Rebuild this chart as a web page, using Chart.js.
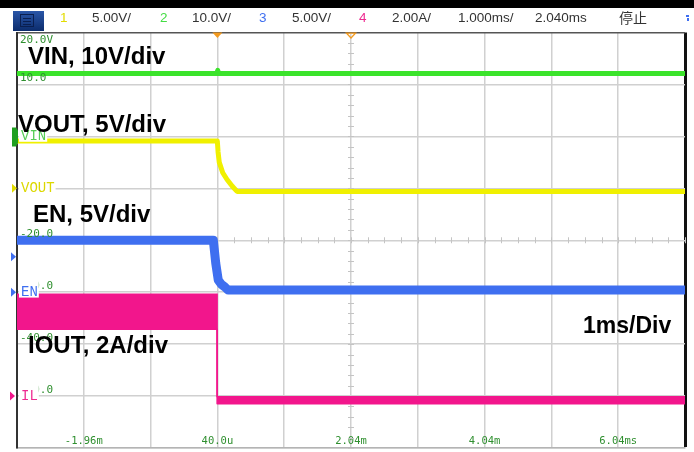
<!DOCTYPE html>
<html><head><meta charset="utf-8">
<script src="https://cdn.jsdelivr.net/npm/chart.js@4.4.0/dist/chart.umd.min.js"></script>
<style>html,body{margin:0;padding:0;background:#fff;overflow:hidden}canvas{display:block}</style>
</head><body>
<canvas id="c" width="694" height="452"></canvas>
<script>
// ---- time axis (ms), 1 ms/div ----
const xTickValues = [-2.96,-1.96,-0.96,0.04,1.04,2.04,3.04,4.04,5.04,6.04,7.04];
const xTickLabels = ['','-1.96m','','40.0u','','2.04m','','4.04m','','6.04ms',''];
// ---- CH2 (VIN) scale ticks, 10 V/div ----
const vinTickValues = [-60,-50,-40,-30,-20,-10,0,10,20];
const vinTickLabels = ['','-50.0','-40.0','-30.0','-20.0','-10.0','0.0','10.0','20.0V'];

// ---- header ----
const chanNums   = ['1','2','3','4'];
const chanScales = ['5.00V/','10.0V/','5.00V/','2.00A/'];
const timebase = '1.000ms/';
const delay = '2.040ms';
const runState = '停止';

// ---- traces (time in ms) ----
const vinT  = [-2.96, 0.03, 0.045, 0.06, 7.04];
const vinV  = [12.1, 12.1, 12.7, 12.1, 12.1];            // V
const voutT = [-2.96, 0.039, 0.05, 0.068, 0.12, 0.184, 0.263, 0.334, 7.04];
const voutV = [4.55, 4.55, 3.5, 2.5, 1.5, 0.85, 0.2, -0.3, -0.3]; // V
const enT   = [-2.96, -0.021, 0.015, 0.053, 0.1, 0.154, 0.2, 7.04];
const enV   = [5.0, 5.0, 2.8, 1.16, 0.75, 0.49, 0.2, 0.2];       // V
const ilT   = [-2.96, 0.035, 0.036, 7.04];
const ilMax = [3.92, 3.92, -0.03, -0.03];                         // A (ripple top)
const ilMin = [2.57, 2.57, -0.3, -0.3];                           // A (ripple bottom)
const enTrigLevel = 3.4;

// ---- annotations ----
const notes = ['VIN, 10V/div','VOUT, 5V/div','EN, 5V/div','IOUT, 2A/div','1ms/Div'];

const C = {vin:'#3be32b', vout:'#f0f000', en:'#3f6ff0', il:'#f2168c', lbl:'#2f8f2f'};
const pts = (t, v) => t.map((x, i) => ({x, y: v[i]}));
const noPad = s => { s.paddingTop = 0; s.paddingBottom = 0; s.paddingLeft = 0; s.paddingRight = 0; };

function chanAxis(min, max, label, color) {
  return {
    type:'linear', position:'left', min, max, z:2,
    grid:{display:false, drawTicks:false}, border:{display:false},
    afterBuildTicks: s => { s.ticks = [{value:0}]; },
    afterFit: s => { s.width = 0; noPad(s); },
    ticks:{ z:2, mirror:true, padding:4, color, autoSkip:false,
      font:{family:'Liberation Mono', size:14},
      callback: () => label,
      showLabelBackdrop:true, backdropColor:'#ffffff',
      backdropPadding:{top:3,bottom:-3,left:2,right:1} }
  };
}

const deco = {
  id:'deco',
  beforeDraw(chart){
    const ctx = chart.ctx;
    ctx.save();
    ctx.fillStyle = '#fff'; ctx.fillRect(0,0,chart.width,chart.height);
    ctx.fillStyle = '#000'; ctx.fillRect(0,0,chart.width,8);
    // menu icon
    const g = ctx.createLinearGradient(0,11,0,31);
    g.addColorStop(0,'#2a56a8'); g.addColorStop(1,'#0c2c6c');
    ctx.fillStyle = g; ctx.fillRect(13,11,31,20);
    ctx.strokeStyle = '#0a1f50'; ctx.lineWidth = 1;
    ctx.strokeRect(20.5,14.5,13,12);
    ctx.beginPath(); ctx.moveTo(23,18.5); ctx.lineTo(31,18.5); ctx.moveTo(23,21.5); ctx.lineTo(31,21.5); ctx.moveTo(23,24.5); ctx.lineTo(31,24.5); ctx.stroke();
    // header texts
    ctx.font = '13.5px "Liberation Sans", Arial, sans-serif';
    ctx.textBaseline = 'middle';
    const numX = [60, 160, 259, 359], scX = [92, 192, 292, 392];
    const numCol = ['#e2dc00', '#44dd44', '#3f6ff0', '#ee2a90'];
    chanNums.forEach((n,i)=>{ ctx.fillStyle = numCol[i]; ctx.fillText(n, numX[i], 18); ctx.fillStyle = '#333'; ctx.fillText(chanScales[i], scX[i], 18); });
    ctx.fillStyle = '#333';
    ctx.fillText(timebase, 458, 18);
    ctx.fillText(delay, 535, 18);
    ctx.font = '14px "Noto Sans CJK SC", sans-serif';
    ctx.fillText(runState, 619, 18);
    ctx.fillStyle = '#3f6ff0'; ctx.fillRect(686,15,3,2); ctx.fillRect(687,18,2,3);
    ctx.restore();
  },
  beforeDatasetsDraw(chart){
    const ctx = chart.ctx, xs = chart.scales.x, ys = chart.scales.yVin;
    const xc = xs.getPixelForValue(2.04), yc = ys.getPixelForValue(-20);
    ctx.save(); ctx.strokeStyle = '#c4c4c4'; ctx.lineWidth = 1;
    ctx.beginPath();
    for (let v = -60; v <= 20; v += 2) { const y = Math.round(ys.getPixelForValue(v)) + 0.5; ctx.moveTo(xc-3, y); ctx.lineTo(xc+3, y); }
    for (let k = 0; k <= 40; k++) { const x = Math.round(xs.getPixelForValue(-2.96 + k*0.25)) + 0.5; ctx.moveTo(x, yc-3); ctx.lineTo(x, yc+3); }
    ctx.stroke(); ctx.restore();
  },
  afterDraw(chart){
    const ctx = chart.ctx, xs = chart.scales.x, s = chart.scales;
    ctx.save();
    // channel ground markers
    const yv = s.yVin.getPixelForValue(0);
    ctx.fillStyle = '#1f9f1f';
    ctx.beginPath(); ctx.moveTo(12,yv-9); ctx.lineTo(16,yv-9); ctx.lineTo(18,yv-6); ctx.lineTo(18,yv+6); ctx.lineTo(16,yv+10); ctx.lineTo(12,yv+10); ctx.closePath(); ctx.fill();
    const tri = (y, col, x0) => { ctx.fillStyle = col; ctx.beginPath(); ctx.moveTo(x0, y-4.5); ctx.lineTo(x0+5, y); ctx.lineTo(x0, y+4.5); ctx.closePath(); ctx.fill(); };
    tri(s.yOut.getPixelForValue(0), '#e0dc00', 12);
    tri(s.yEn.getPixelForValue(0), C.en, 11);
    tri(s.yIl.getPixelForValue(0), C.il, 10);
    tri(s.yEn.getPixelForValue(enTrigLevel), C.en, 11);
    // trigger position / centre markers
    const xt = xs.getPixelForValue(0.04), xc = xs.getPixelForValue(2.04), top = chart.chartArea.top;
    ctx.fillStyle = '#f39a1e';
    ctx.beginPath(); ctx.moveTo(xt-5, top); ctx.lineTo(xt+5, top); ctx.lineTo(xt, top+5.5); ctx.closePath(); ctx.fill();
    ctx.strokeStyle = '#f39a1e'; ctx.lineWidth = 1.3;
    ctx.beginPath(); ctx.moveTo(xc-4.5, top+0.7); ctx.lineTo(xc+4.5, top+0.7); ctx.lineTo(xc, top+5.5); ctx.closePath(); ctx.stroke();
    // annotations
    ctx.fillStyle = '#000'; ctx.textBaseline = 'alphabetic';
    ctx.font = 'bold 24px "Liberation Sans", Arial, sans-serif';
    ctx.fillText(notes[0], 28, 64);
    ctx.fillText(notes[1], 18, 132);
    ctx.fillText(notes[2], 33, 222);
    ctx.fillText(notes[3], 28, 353);
    ctx.font = 'bold 23px "Liberation Sans", Arial, sans-serif';
    ctx.fillText(notes[4], 583, 333);
    ctx.restore();
  }
};

const lastX = xTickValues.length - 1;
new Chart(document.getElementById('c'), {
  type:'line',
  data:{ datasets:[
    { label:'VIN',  data:pts(vinT, vinV),  yAxisID:'yVin', borderColor:C.vin,  borderWidth:5 },
    { label:'VOUT', data:pts(voutT, voutV), yAxisID:'yOut', borderColor:C.vout, borderWidth:5 },
    { label:'EN',   data:pts(enT, enV),    yAxisID:'yEn',  borderColor:C.en,   borderWidth:9 },
    { label:'IL max', data:pts(ilT, ilMax), yAxisID:'yIl', borderColor:C.il, borderWidth:1.5, fill:false },
    { label:'IL min', data:pts(ilT, ilMin), yAxisID:'yIl', borderColor:C.il, borderWidth:1.5, fill:'-1', backgroundColor:C.il }
  ]},
  options:{
    responsive:false, devicePixelRatio:1, animation:false,
    elements:{ point:{radius:0}, line:{tension:0, borderJoinStyle:'round'} },
    layout:{ padding:{left:17, right:9, top:32.5, bottom:0} },
    plugins:{ legend:{display:false}, tooltip:{enabled:false} },
    scales:{
      x:{ type:'linear', min:-2.96, max:7.04,
        afterBuildTicks: s => { s.ticks = xTickValues.map(v => ({value:v})); },
        afterFit: s => { s.height = 4; noPad(s); },
        grid:{ drawTicks:false,
          color: c => c.index === lastX ? '#111' : (c.index === 0 ? '#333' : '#d0d0d0'),
          lineWidth: c => c.index === lastX ? 3 : 1.5 },
        border:{ color:'#b4b4b4', width:1.5 },
        ticks:{ autoSkip:false, maxRotation:0, mirror:true, padding:0, color:C.lbl,
          font:{family:'DejaVu Sans Mono', size:10.5},
          callback:(v, i) => xTickLabels[i] }
      },
      yVin:{ type:'linear', position:'left', min:-60, max:20, z:1,
        afterBuildTicks: s => { s.ticks = vinTickValues.map(v => ({value:v})); },
        afterFit: s => { s.width = 0; noPad(s); },
        grid:{ drawTicks:false,
          color: c => (c.tick && c.tick.value === 20) ? '#555' : '#d0d0d0',
          lineWidth: 1.5 },
        border:{ color:'#333', width:2 },
        ticks:{ z:1, mirror:true, padding:3, labelOffset:-6, color:C.lbl, autoSkip:false,
          font:{family:'DejaVu Sans Mono', size:11},
          callback:(v) => { const lab = vinTickLabels[vinTickValues.indexOf(v)]; return v === 20 ? ['', '', lab] : lab; } }
      },
      yOut: chanAxis(-25, 15, 'VOUT', '#dcd800'),
      yEn:  chanAxis(-15, 25, 'EN', C.en),
      yIl:  chanAxis(-2, 14, 'IL', '#ee2a90'),
      yVinLbl: chanAxis(-60, 20, 'VIN', '#55cc55')
    }
  },
  plugins:[deco]
});
</script>
</body></html>
